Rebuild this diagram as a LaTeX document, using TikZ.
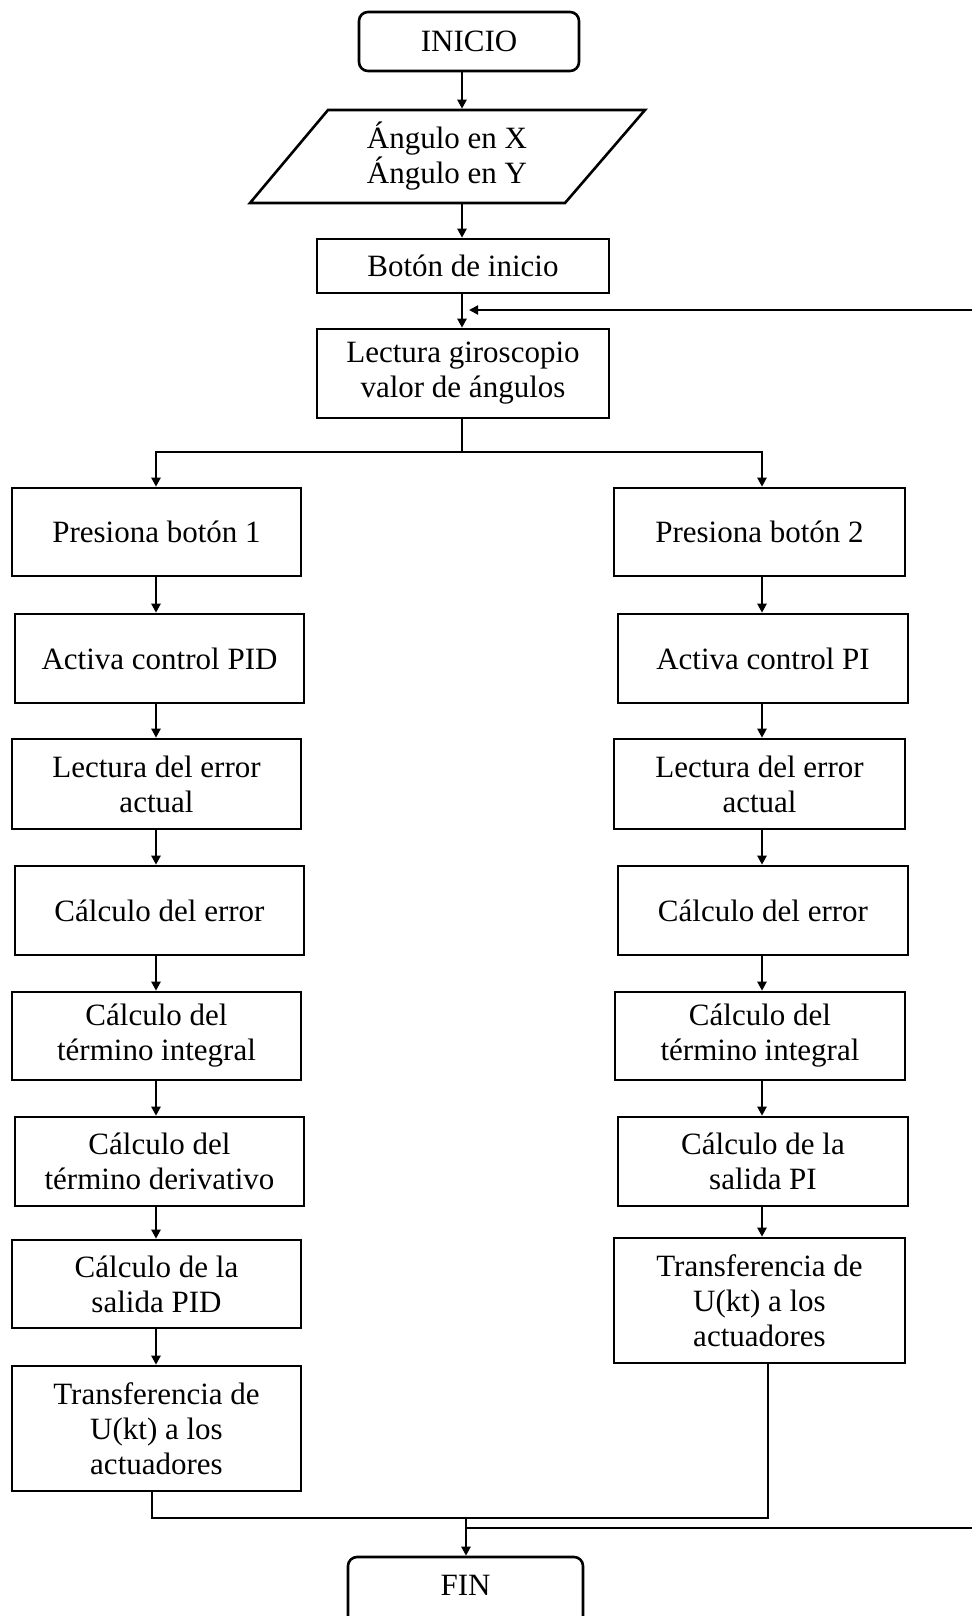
\documentclass[tikz,border=0pt]{standalone}
\usepackage{fontspec}
\setmainfont{Liberation Serif}
\usetikzlibrary{arrows.meta}
\begin{document}
\begin{tikzpicture}[x=1pt,y=-1pt,line width=2.6pt,
  txt/.style={font=\fontsize{31}{35}\selectfont, align=center},
  box/.style={txt, draw, line width=2.6pt, inner sep=0pt, minimum width=289pt, minimum height=88pt},
  term/.style={txt, draw, line width=2.6pt, rounded corners=9pt, inner sep=0pt},
  arr/.style={-{Triangle[length=9pt,width=9pt]}}]
\clip (0,0) rectangle (972,1616);
\useasboundingbox (0,0) rectangle (972,1616);
\fill[white] (0,0) rectangle (972,1616);

% column axes
\coordinate (cx) at (462,0);
\coordinate (lx) at (156,0);
\coordinate (rx) at (762,0);

% top part
\node[term, minimum width=220pt, minimum height=59pt] (ini) at (469,41.5) {INICIO};
\node[txt, inner sep=0pt, minimum width=240pt, minimum height=93pt] (par) at (447,156.5) {Ángulo en X\\Ángulo en Y};
\draw (328,110) -- (645,110) -- (565,203) -- (250,203) -- cycle;
\node[box, minimum width=292pt, minimum height=54pt] (bot) at (463,266) {Botón de inicio};
\node[box, minimum width=292pt, minimum height=89pt] (gir) at (463,373.5) {Lectura giroscopio\\valor de ángulos};

\draw[arr] (ini.south -| cx) -- (par.north -| cx);
\draw[arr] (par.south -| cx) -- (bot.north -| cx);
\draw[arr] (bot.south -| cx) -- (gir.north -| cx);
\coordinate (fbR) at (972,310);
\coordinate (fbT) at (469,310);
\draw[arr, line width=2pt] (fbR) -- (fbT);

% left column
\node[box] (l1) at (156.5,532) {Presiona botón 1};
\node[box, minimum height=89pt] (l2) at (159.5,658.5) {Activa control PID};
\node[box, minimum height=90pt] (l3) at (156.5,784) {Lectura del error\\actual};
\node[box, minimum height=89pt] (l4) at (159.5,910.5) {Cálculo del error};
\node[box] (l5) at (156.5,1036) {Cálculo del\\término integral};
\node[box, minimum height=89pt] (l6) at (159.5,1161.5) {Cálculo del\\término derivativo};
\node[box] (l7) at (156.5,1284) {Cálculo de la\\salida PID};
\node[box, minimum height=125pt] (l8) at (156.5,1428.5) {Transferencia de\\U(kt) a los\\actuadores};

% right column
\node[box, minimum width=291pt] (r1) at (759.5,532) {Presiona botón 2};
\node[box, minimum width=290pt, minimum height=89pt] (r2) at (763,658.5) {Activa control PI};
\node[box, minimum width=291pt, minimum height=90pt] (r3) at (759.5,784) {Lectura del error\\actual};
\node[box, minimum width=290pt, minimum height=89pt] (r4) at (763,910.5) {Cálculo del error};
\node[box, minimum width=290pt] (r5) at (760,1036) {Cálculo del\\término integral};
\node[box, minimum width=290pt, minimum height=89pt] (r6) at (763,1161.5) {Cálculo de la\\salida PI};
\node[box, minimum width=291pt, minimum height=125pt] (r7) at (759.5,1300.5) {Transferencia de\\U(kt) a los\\actuadores};

% branch
\coordinate (br) at (462,452);
\draw (gir.south -| cx) -- (br);
\draw[arr] (br) -| (l1.north -| lx);
\draw[arr] (br) -| (r1.north -| rx);

\foreach \a/\b in {l1/l2,l2/l3,l3/l4,l4/l5,l5/l6,l6/l7,l7/l8}{
  \draw[arr] (\a.south -| lx) -- (\b.north -| lx);
}
\foreach \a/\b in {r1/r2,r2/r3,r3/r4,r4/r5,r5/r6,r6/r7}{
  \draw[arr] (\a.south -| rx) -- (\b.north -| rx);
}

% merge
\node[term, minimum width=235pt, minimum height=82pt, text height=21pt, text depth=26pt] (fin) at (465.5,1598) {FIN};
\coordinate (mx) at (466,0);
\coordinate (ml) at (152,1518);
\coordinate (mr) at (768,1518);
\draw (l8.south -| ml) -- (ml) -- (mr) -- (r7.south -| mr);
\draw[arr] (ml -| mx) -- (fin.north -| mx);
\coordinate (endR) at (972,1528);
\draw (466,1528) -- (endR);
\end{tikzpicture}
\end{document}
